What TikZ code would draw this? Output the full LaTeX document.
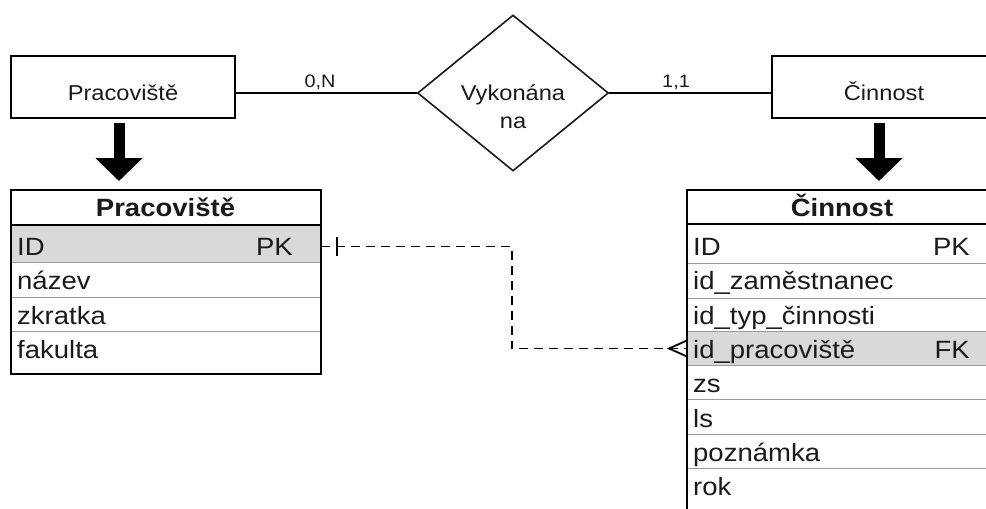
\documentclass[tikz,border=0pt]{standalone}
\usepackage{fontspec}
\setmainfont{Liberation Sans}[FakeStretch=1.1]
\usetikzlibrary{shapes.geometric,arrows.meta}

\definecolor{ink}{HTML}{1A1A1A}
\definecolor{keyrow}{HTML}{D9D9D9}
\definecolor{sepline}{HTML}{9A9A9A}

\begin{document}
\begin{tikzpicture}[x=1pt,y=-1pt,
  entity/.style={draw=black, line width=2pt, minimum width=224pt, minimum height=62pt, inner sep=0pt},
  relation/.style={diamond, draw=ink, line width=1.6pt, minimum width=191pt, minimum height=156pt, inner sep=0pt, aspect=1.2},
  elabel/.style={font=\fontsize{21.5}{28}\selectfont, text=ink, inner sep=0pt, anchor=base},
  card/.style={font=\fontsize{18}{22}\selectfont, text=ink, inner sep=0pt, anchor=base},
  link/.style={line width=2pt, draw=black},
  rowcell/.style={draw=sepline, line width=1pt, inner sep=0pt, anchor=north west},
  frame/.style={draw=black, line width=2pt},
  thead/.style={font=\bfseries\fontsize{25}{30}\selectfont, text=ink, inner sep=0pt, anchor=base},
  rtext/.style={font=\fontsize{25}{30}\selectfont, text=ink, inner sep=0pt, anchor=base west},
  rkey/.style={font=\fontsize{25}{30}\selectfont, text=ink, inner sep=0pt, anchor=base east},
  fkline/.style={draw=black, line width=1.8pt, dash pattern=on 9pt off 6pt},
  bigarrow/.style={draw=black, line width=11pt, -{Triangle[width=46pt,length=23pt]}}
]
\useasboundingbox (0,0) rectangle (986,509);
\clip (0,0) rectangle (986,509);
\fill[white] (0,0) rectangle (986,509);

% --- conceptual model: entities and relationship ---
\node[entity] (pracEnt) at (123,87) {};
\node[elabel] (pracEntText) at (123,100) {Pracoviště};
\node[entity] (cinEnt) at (884,87) {};
\node[elabel] (cinEntText) at (884,100) {Činnost};

\node[relation] (rel) at (513,93) {};
\node[elabel] (relTextA) at (513,100) {Vykonána};
\node[elabel] (relTextB) at (513,128) {na};

\draw[link] (pracEnt.east |- rel.west) -- (rel.west);
\draw[link] (rel.east) -- (cinEnt.west |- rel.east);
\node[card] (cardL) at (320,87) {0,N};
\node[card] (cardR) at (676,87) {1,1};

% --- transformation arrows ---
\coordinate (pArrTop) at (119,123);
\coordinate (pArrTip) at (119,181);
\coordinate (cArrTop) at (879,123);
\coordinate (cArrTip) at (879,181);
\draw[bigarrow] (pArrTop) -- (pArrTip);
\draw[bigarrow] (cArrTop) -- (cArrTip);

% --- table Pracoviště ---
\node[rowcell, minimum width=309pt, minimum height=34pt] (pHead) at (11,190) {};
\node[rowcell, fill=keyrow, minimum width=309pt, minimum height=38pt] (pID) at (11,224) {};
\node[rowcell, minimum width=309pt, minimum height=35pt] (pNaz) at (11,262) {};
\node[rowcell, minimum width=309pt, minimum height=34pt] (pZkr) at (11,297) {};
\node[rowcell, minimum width=309pt, minimum height=42pt] (pFak) at (11,331) {};
\draw[frame] (pHead.north west) rectangle (pFak.south east);
\draw[frame] (pHead.south west) -- (pHead.south east);
\node[thead] (pHeadText) at (165.5,216) {Pracoviště};
\node[rtext] (pIDText) at (17,255) {ID};
\node[rkey] (pIDKey) at (293,255) {PK};
\node[rtext] (pNazText) at (17,289.5) {název};
\node[rtext] (pZkrText) at (17,324) {zkratka};
\node[rtext] (pFakText) at (17,358.5) {fakulta};

% --- table Činnost ---
\node[rowcell, minimum width=310pt, minimum height=33pt] (cHead) at (687,190) {};
\node[rowcell, minimum width=310pt, minimum height=40pt] (cID) at (687,223) {};
\node[rowcell, minimum width=310pt, minimum height=35pt] (cZam) at (687,263) {};
\node[rowcell, minimum width=310pt, minimum height=33pt] (cTyp) at (687,298) {};
\node[rowcell, fill=keyrow, minimum width=310pt, minimum height=34pt] (cPrac) at (687,331) {};
\node[rowcell, minimum width=310pt, minimum height=34pt] (cZs) at (687,365) {};
\node[rowcell, minimum width=310pt, minimum height=35pt] (cLs) at (687,399) {};
\node[rowcell, minimum width=310pt, minimum height=34pt] (cPoz) at (687,434) {};
\node[rowcell, minimum width=310pt, minimum height=60pt] (cRok) at (687,468) {};
\draw[frame] (cHead.north west) rectangle (cRok.south east);
\draw[frame] (cHead.south west) -- (cHead.south east);
\node[thead] (cHeadText) at (842,216) {Činnost};
\node[rtext] (cIDText) at (693,255) {ID};
\node[rkey] (cIDKey) at (970,255) {PK};
\node[rtext] (cZamText) at (693,289.5) {id\_zaměstnanec};
\node[rtext] (cTypText) at (693,324) {id\_typ\_činnosti};
\node[rtext] (cPracText) at (693,358) {id\_pracoviště};
\node[rkey] (cPracKey) at (970,358) {FK};
\node[rtext] (cZsText) at (693,392.5) {zs};
\node[rtext] (cLsText) at (693,427) {ls};
\node[rtext] (cPozText) at (693,461) {poznámka};
\node[rtext] (cRokText) at (693,495.5) {rok};

% --- foreign key relationship ---
\coordinate (fkBend) at (512,0);
\draw[fkline] ([yshift=-3pt]pID.east) -| (fkBend |- cPrac.west) -- (cPrac.west);
\draw[link, line width=1.8pt] ([xshift=16pt,yshift=7pt]pID.east) -- ++(0,19);
\draw[link, line width=1.8pt] ([yshift=8pt]cPrac.west) -- ++(-18,8) -- ++(18,8);
\end{tikzpicture}
\end{document}
